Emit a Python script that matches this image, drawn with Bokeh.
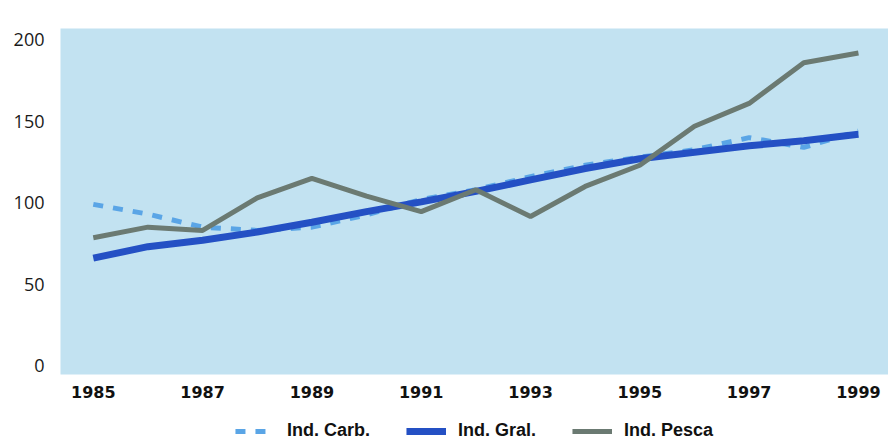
from bokeh.plotting import figure
from bokeh.layouts import column
from bokeh.models import Range1d, FixedTicker, Legend, LegendItem
from bokeh.embed import file_html
from bokeh.resources import INLINE

years = list(range(1985, 2000))
ind_carb = [99, 93, 85, 83, 85, 92.5, 102, 108, 116, 123, 128, 132.5, 140, 134, 144]
ind_gral = [66, 73, 77, 82, 88, 94.5, 100.5, 107, 114, 121, 127, 131, 135, 138, 142]
ind_pesca = [78.5, 85, 83, 103, 115, 104, 94.5, 108, 91.5, 110, 123, 147, 161, 186, 192]
x_ticks = [1985, 1987, 1989, 1991, 1993, 1995, 1997, 1999]
y_ticks = [0, 50, 100, 150, 200]
series_names = ["Ind. Carb.", "Ind. Gral.", "Ind. Pesca"]

colors = ["#5aa5e6", "#2450c4", "#6b7a72"]
widths = [5, 7, 5]
dashes = ["10 10", "solid", "solid"]

W = 888
p = figure(width=W, height=400, output_backend="svg", toolbar_location=None,
           x_range=Range1d(1984.4, 1999.55), y_range=Range1d(-5.5, 207))
p.min_border_left = 60
p.min_border_right = 0
p.min_border_top = 28
p.min_border_bottom = 25
p.background_fill_color = "#c2e2f1"
p.border_fill_color = "white"
p.outline_line_color = None
p.xgrid.visible = False
p.ygrid.visible = False

for ax in (p.xaxis[0], p.yaxis[0]):
    ax.axis_line_color = None
    ax.major_tick_line_color = None
    ax.minor_tick_line_color = None

p.xaxis.ticker = FixedTicker(ticks=x_ticks)
p.yaxis.ticker = FixedTicker(ticks=y_ticks)
p.xaxis.major_label_text_font = "DejaVu Sans"
p.xaxis.major_label_text_font_style = "bold"
p.xaxis.major_label_text_font_size = "16px"
p.xaxis.major_label_text_color = "#111111"
p.xaxis.major_label_standoff = 5
p.yaxis.major_label_text_font = "Open Sans"
p.yaxis.major_label_text_font_size = "18px"
p.yaxis.major_label_text_color = "#1a1a1a"
p.yaxis.major_label_standoff = 10

all_series = [ind_carb, ind_gral, ind_pesca]
for vals, c, w, d in zip(all_series, colors, widths, dashes):
    p.line(years, vals, line_color=c, line_width=w, line_dash=d)

# legend strip (series drawn off-range so only their legend swatches show)
p2 = figure(width=W, height=43, output_backend="svg", toolbar_location=None,
            x_range=Range1d(0, 1), y_range=Range1d(0, 1))
p2.axis.visible = False
p2.grid.visible = False
p2.outline_line_color = None
p2.min_border = 0
items = []
for name, vals, c, w, d in zip(series_names, all_series, colors, widths, dashes):
    r = p2.line(years, vals, line_color=c, line_width=w, line_dash=d)
    items.append(LegendItem(label=name, renderers=[r]))
legend = Legend(items=items, orientation="horizontal", location="bottom_center",
                label_text_font="Liberation Sans", label_text_font_style="bold",
                label_text_font_size="18px", label_text_color="#111111",
                glyph_width=40, label_standoff=12, spacing=36,
                border_line_color=None, background_fill_alpha=0,
                padding=4, margin=2)
p2.add_layout(legend, "center")

open("out.html", "w").write(file_html(column(p, p2, spacing=0), INLINE))
